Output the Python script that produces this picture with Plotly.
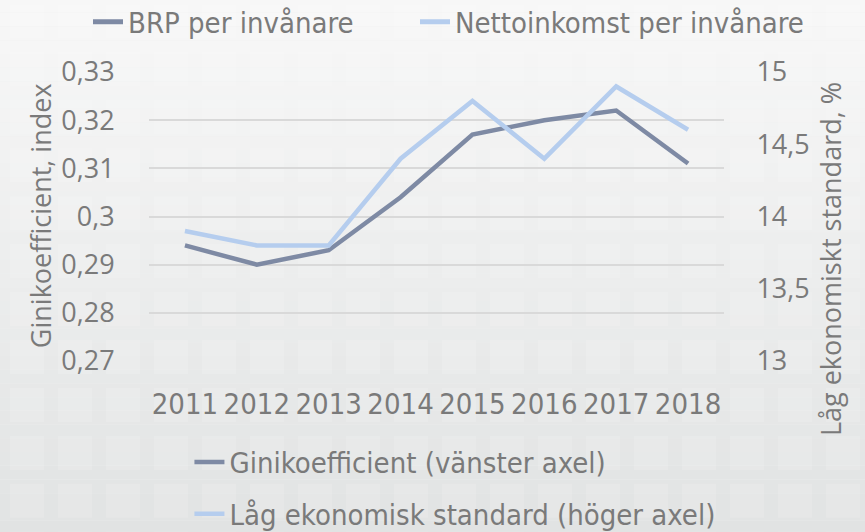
import plotly.graph_objects as go

years = ["2011", "2012", "2013", "2014", "2015", "2016", "2017", "2018"]
gini = [0.294, 0.290, 0.293, 0.304, 0.317, 0.320, 0.322, 0.311]
low_std = [13.9, 13.8, 13.8, 14.4, 14.8, 14.4, 14.9, 14.6]

dark = "#7e8aa4"
light = "#b5cdee"
txt = "#7a7a7a"
narrow = dict(family="Liberation Sans Narrow, DejaVu Sans Condensed, sans-serif", size=29, color=txt)

fig = go.Figure()

# top legend: series from the companion chart, no data here
fig.add_trace(go.Scatter(x=[None], y=[None], mode="lines", name="BRP per invånare",
                         line=dict(color=dark, width=5), legend="legend", showlegend=True))
fig.add_trace(go.Scatter(x=[None], y=[None], mode="lines", name="Nettoinkomst per invånare",
                         line=dict(color=light, width=5), legend="legend3", showlegend=True))

fig.add_trace(go.Scatter(x=years, y=gini, mode="lines", name="Ginikoefficient (vänster axel)",
                         line=dict(color=dark, width=4.5), legend="legend2", legendgroup="g"))
fig.add_trace(go.Scatter(x=years, y=low_std, mode="lines", name="Låg ekonomisk standard (höger axel)",
                         line=dict(color=light, width=4.5), legend="legend2", legendgroup="l",
                         yaxis="y2"))

# background: soft vertical gradient with faint tiles
shapes = []
n = 40
top, bot = (248, 248, 248), (225, 227, 227)
for i in range(n):
    t = i / (n - 1)
    c = tuple(round(top[k] + (bot[k] - top[k]) * t) for k in range(3))
    shapes.append(dict(type="rect", xref="paper", yref="paper", layer="below",
                       x0=-0.3, x1=1.3, y0=1.3 - (i + 1) * 1.9 / n, y1=1.3 - i * 1.9 / n,
                       fillcolor="rgb(%d,%d,%d)" % c, line_width=0))
for row in range(12):
    for col in range(18):
        px0 = 10 + col * 48
        py0 = 4 + row * 48
        shapes.append(dict(type="rect", xref="paper", yref="paper", layer="below",
                           x0=(px0 - 149) / 575, x1=(px0 + 34 - 149) / 575,
                           y1=(361 - py0) / 289.3, y0=(361 - py0 - 34) / 289.3,
                           fillcolor="rgba(255,255,255,0.14)", line_width=0))

top_legend = dict(orientation="h", y=1 - 22 / 532, xref="container", yref="container",
                  xanchor="left", yanchor="middle", bgcolor="rgba(0,0,0,0)", font=narrow)

fig.update_layout(
    width=865, height=532,
    margin=dict(l=149, r=141, t=72, b=171, autoexpand=False),
    paper_bgcolor="#eeeeee", plot_bgcolor="rgba(0,0,0,0)",
    separators=", ",
    shapes=shapes,
    font=dict(family="Open Sans, sans-serif", color=txt, size=24),
    xaxis=dict(type="category", range=[-0.5, 7.5], showgrid=False, showline=False, zeroline=False,
               automargin=False,
               ticks="outside", ticklen=17, tickcolor="rgba(0,0,0,0)", tickfont=narrow),
    yaxis=dict(range=[0.27, 0.33], dtick=0.01, showgrid=True, gridcolor="#d9d9d9", gridwidth=1.5,
               zeroline=False, automargin=False,
               ticks="outside", ticklen=28, tickcolor="rgba(0,0,0,0)",
               tickfont=dict(size=27, color=txt)),
    yaxis2=dict(range=[13, 15], dtick=0.5, overlaying="y", side="right", showgrid=False,
                zeroline=False, automargin=False,
                ticks="outside", ticklen=26, tickcolor="rgba(0,0,0,0)",
                tickfont=dict(size=27, color=txt)),
    annotations=[
        dict(text="Ginikoefficient, index", textangle=-90, showarrow=False,
             xref="paper", yref="paper", x=(40 - 149) / 575, y=(361 - 216) / 289.3,
             xanchor="center", yanchor="middle", font=dict(size=27, color=txt)),
        dict(text="Låg ekonomiskt standard, %", textangle=-90, showarrow=False,
             xref="paper", yref="paper", x=(830 - 149) / 575, y=(361 - 259) / 289.3,
             xanchor="center", yanchor="middle", font=dict(size=27, color=txt)),
    ],
    legend=dict(top_legend, x=88 / 865),
    legend3=dict(top_legend, x=415 / 865),
    legend2=dict(orientation="v", x=0.219, y=0.179, xref="container", yref="container",
                 xanchor="left", yanchor="top", bgcolor="rgba(0,0,0,0)",
                 font=narrow, tracegroupgap=11),
)

fig.write_html("out.html", config={"displayModeBar": False},
               post_script="document.body.style.margin='0';")
